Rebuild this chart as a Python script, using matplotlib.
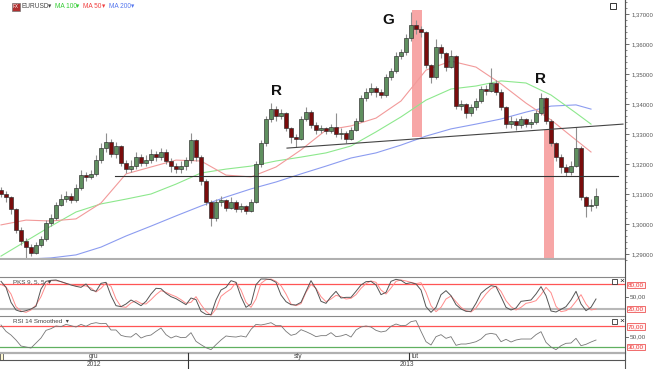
import matplotlib
matplotlib.use("Agg")
import matplotlib.pyplot as plt
from matplotlib.lines import Line2D
from matplotlib.ticker import FuncFormatter, MultipleLocator

plt.rcParams['font.family'] = ['Liberation Sans', 'DejaVu Sans']

## EURUSD candles (4H), open = previous close
first_open = 1.3115
close = [1.3100, 1.3090, 1.3050, 1.2980, 1.2945, 1.2925, 1.2905, 1.2930, 1.2950, 1.3005,
         1.3020, 1.3065, 1.3085, 1.3095, 1.3080, 1.3120, 1.3165, 1.3158, 1.3168, 1.3215,
         1.3255, 1.3275, 1.3235, 1.3260, 1.3205, 1.3185, 1.3195, 1.3225, 1.3205, 1.3215,
         1.3235, 1.3225, 1.3240, 1.3210, 1.3195, 1.3185, 1.3195, 1.3215, 1.3280, 1.3225,
         1.3145, 1.3075, 1.3020, 1.3075, 1.3080, 1.3055, 1.3075, 1.3050, 1.3060, 1.3045,
         1.3075, 1.3200, 1.3270, 1.3350, 1.3385, 1.3360, 1.3370, 1.3320, 1.3290, 1.3285,
         1.3350, 1.3375, 1.3330, 1.3315, 1.3320, 1.3310, 1.3325, 1.3300, 1.3305, 1.3285,
         1.3315, 1.3345, 1.3420, 1.3440, 1.3455, 1.3440, 1.3430, 1.3490, 1.3510, 1.3560,
         1.3575, 1.3620, 1.3665, 1.3650, 1.3640, 1.3530, 1.3490, 1.3590, 1.3570, 1.3525,
         1.3560, 1.3395, 1.3400, 1.3370, 1.3390, 1.3410, 1.3450, 1.3445, 1.3470, 1.3440,
         1.3390, 1.3335, 1.3345, 1.3330, 1.3350, 1.3335, 1.3340, 1.3370, 1.3420, 1.3345,
         1.3270, 1.3225, 1.3190, 1.3175, 1.3195, 1.3255, 1.3090, 1.3060, 1.3065, 1.3095]
high = [1.3125, 1.3110, 1.3095, 1.3055, 1.2990, 1.2955, 1.2935, 1.2940, 1.2960, 1.3015,
        1.3035, 1.3075, 1.3100, 1.3110, 1.3105, 1.3135, 1.3180, 1.3175, 1.3180, 1.3230,
        1.3270, 1.3305, 1.3285, 1.3275, 1.3265, 1.3215, 1.3215, 1.3240, 1.3235, 1.3230,
        1.3250, 1.3245, 1.3255, 1.3250, 1.3220, 1.3205, 1.3210, 1.3225, 1.3305, 1.3285,
        1.3230, 1.3150, 1.3080, 1.3085, 1.3095, 1.3085, 1.3090, 1.3080, 1.3070, 1.3065,
        1.3085, 1.3210, 1.3280, 1.3360, 1.3403, 1.3395, 1.3385, 1.3375, 1.3325, 1.3300,
        1.3360, 1.3390, 1.3380, 1.3340, 1.3330, 1.3325, 1.3335, 1.3370, 1.3320, 1.3310,
        1.3325, 1.3355, 1.3430, 1.3455, 1.3470, 1.3460, 1.3450, 1.3500, 1.3520, 1.3575,
        1.3585, 1.3635, 1.3707, 1.3680, 1.3660, 1.3645, 1.3535, 1.3617, 1.3600, 1.3575,
        1.3580, 1.3565, 1.3415, 1.3405, 1.3400, 1.3420, 1.3460, 1.3465, 1.3520, 1.3480,
        1.3450, 1.3395, 1.3360, 1.3355, 1.3360, 1.3355, 1.3350, 1.3380, 1.3437, 1.3425,
        1.3350, 1.3275, 1.3235, 1.3200, 1.3210, 1.3323, 1.3260, 1.3095, 1.3085, 1.3120]
low = [1.3090, 1.3075, 1.3035, 1.2970, 1.2930, 1.2885, 1.2895, 1.2900, 1.2925, 1.2945,
       1.2995, 1.3015, 1.3060, 1.3075, 1.3070, 1.3075, 1.3115, 1.3145, 1.3150, 1.3160,
       1.3205, 1.3240, 1.3225, 1.3220, 1.3195, 1.3170, 1.3175, 1.3185, 1.3195, 1.3195,
       1.3205, 1.3210, 1.3215, 1.3200, 1.3175, 1.3170, 1.3170, 1.3180, 1.3205, 1.3210,
       1.3130, 1.3065, 1.2995, 1.3010, 1.3060, 1.3045, 1.3050, 1.3040, 1.3040, 1.3035,
       1.3040, 1.3070, 1.3190, 1.3260, 1.3340, 1.3345, 1.3350, 1.3310, 1.3270, 1.3257,
       1.3280, 1.3345, 1.3320, 1.3300, 1.3305, 1.3300, 1.3305, 1.3290, 1.3285, 1.3270,
       1.3280, 1.3310, 1.3340, 1.3410, 1.3430, 1.3425, 1.3420, 1.3425, 1.3480, 1.3505,
       1.3550, 1.3565, 1.3610, 1.3635, 1.3625, 1.3520, 1.3470, 1.3485, 1.3555, 1.3510,
       1.3520, 1.3385, 1.3380, 1.3355, 1.3360, 1.3380, 1.3405, 1.3430, 1.3440, 1.3430,
       1.3380, 1.3320, 1.3320, 1.3315, 1.3320, 1.3325, 1.3320, 1.3335, 1.3365, 1.3335,
       1.3260, 1.3210, 1.3170, 1.3160, 1.3165, 1.3190, 1.3080, 1.3023, 1.3045, 1.3055]

## Moving averages, sampled every 5 candles
ma_x = [0, 5, 10, 15, 20, 25, 30, 35, 40, 45, 50, 55, 60, 65, 70, 75, 80, 85, 90, 95,
        100, 105, 110, 115, 118]
ma50 = [1.2997, 1.3013, 1.3010, 1.3017, 1.3070, 1.3167, 1.3190, 1.3213, 1.3210, 1.3163,
        1.3157, 1.3190, 1.3247, 1.3313, 1.3327, 1.3353, 1.3410, 1.3513, 1.3543, 1.3523,
        1.3467, 1.3403, 1.3347, 1.3280, 1.3240]
ma100 = [1.2893, 1.2943, 1.2993, 1.3040, 1.3067, 1.3083, 1.3100, 1.3133, 1.3170, 1.3183,
         1.3193, 1.3210, 1.3223, 1.3237, 1.3260, 1.3307, 1.3357, 1.3413, 1.3450, 1.3460,
         1.3477, 1.3470, 1.3430, 1.3370, 1.3333]
ma200 = [1.2880, 1.2883, 1.2887, 1.2897, 1.2923, 1.2960, 1.2993, 1.3027, 1.3060, 1.3090,
         1.3117, 1.3140, 1.3167, 1.3193, 1.3220, 1.3237, 1.3263, 1.3293, 1.3317, 1.3333,
         1.3350, 1.3373, 1.3393, 1.3397, 1.3383]

## Stochastic 9,5,5 (%K, %D) and RSI 14 smoothed
stoch_k = [86.4, 72, 36, 17.6, 13.6, 16, 20, 26.4, 68, 86.4, 88.8, 89.6, 85.6, 81.6, 77.6,
           74.4, 72, 80, 65.6, 62.4, 81.6, 84, 52, 28, 25.6, 32, 41.6, 35.2, 28, 38.4,
           56, 69.6, 68.8, 57.6, 49.6, 44.8, 37.6, 30.4, 46.4, 42.4, 14.4, 7.2, 6.4, 41.6, 65.6,
           72, 88, 84, 49.6, 24, 32, 78.4, 92, 92, 90.4, 84, 53.6, 37.6, 30.4, 29.6,
           36, 62.4, 88, 68, 38.4, 33.6, 49.6, 62.4, 46.4, 48, 48, 62.4, 77.6, 85.6, 86.4,
           77.6, 54.4, 60, 86.4, 91.2, 88.8, 80.8, 83.2, 80, 65.6, 25.6, 12, 24, 54.4, 64,
           52, 30.4, 20, 14.4, 14.4, 33.6, 57.6, 68, 76, 73.6, 49.6, 24, 17.6, 22.4, 38.4,
           40, 41.6, 56, 73.6, 52, 15.2, 12.8, 19.2, 25.6, 41.6, 62.4, 32, 16, 24, 44]
stoch_d = [79.2, 72.8, 56, 25.6, 15.2, 12, 17.6, 29.6, 49.6, 78.4, 88, 88, 85.6, 81.6, 78.4,
           76, 76, 75.2, 70.4, 60.8, 69.6, 82.4, 74.4, 44, 25.6, 24, 34.4, 40, 33.6, 32,
           42.4, 54.4, 64, 60, 54.4, 49.6, 42.4, 33.6, 36, 49.6, 30.4, 14.4, 4.8, 20, 50.4,
           60, 68, 84, 65.6, 36, 24, 44, 81.6, 90.4, 92, 86.4, 76, 56, 32, 28,
           32.8, 60, 79.2, 69.6, 49.6, 37.6, 44, 52.8, 49.6, 44, 45.6, 54.4, 69.6, 80.8, 87.2,
           84, 65.6, 56, 70.4, 86.4, 89.6, 87.2, 84, 80.8, 83.2, 60, 28, 13.6, 24, 44,
           51.2, 37.6, 24, 16, 12.8, 22.4, 40, 56, 68.8, 75.2, 62.4, 40, 25.6, 17.6, 24,
           33.6, 36, 40, 54.4, 72, 59.2, 26.4, 13.6, 16, 23.2, 38.4, 54.4, 32, 17.6, 20]
rsi = [71.9, 59.8, 52.8, 43.3, 31.9, 30, 28.1, 37.6, 47.1, 61.7, 64.9, 70, 68.7, 73.1, 70.6,
       68.1, 73.1, 69.4, 74.4, 76.3, 74.4, 75, 62.4, 62.4, 52.2, 49.7, 49, 56, 47.1, 51,
       52.8, 59.8, 66.2, 53.5, 47.1, 51, 47.8, 48.4, 57.3, 40.8, 34.4, 28.7, 24.9, 34.4, 43.3,
       51, 49.7, 49, 51, 49, 63.6, 73.1, 71.9, 73.8, 76.3, 70.6, 70.6, 59.8, 52.2, 54.8,
       63, 59.2, 54.8, 49.7, 51.6, 51.6, 57.3, 49.7, 51, 54.1, 49, 62.4, 68.1, 70, 68.1,
       61.7, 58.6, 60.5, 69.4, 73.8, 70.6, 71.3, 78.3, 80.2, 59.8, 40.1, 33.8, 49.7, 53.5, 46.5,
       49.7, 33.2, 35.7, 35.7, 37.6, 40.1, 45.2, 54.1, 56, 54.1, 40.1, 44.6, 39.5, 43.3, 45.2,
       45.2, 45.2, 53.5, 59.2, 38.9, 30, 24.9, 32.5, 37, 37.6, 46.5, 32.5, 35.1, 39.5, 43.3]

## Drawings on the chart
support_level = 1.3160
support_from = 22.8
support_to = 123.4
trend_start = (57.2, 1.3253)
trend_end = (124.4, 1.3333)
bands = [(82.2, 84.2, 1.3290, 1.3713), (108.6, 110.6, 1.2883, 1.3313)]
marks = [('R', 55.2, 1.3445), ('G', 77.4, 1.3680), ('R', 108.0, 1.3485)]
price_ticks = [1.29, 1.30, 1.31, 1.32, 1.33, 1.34, 1.35, 1.36, 1.37]
months = [('gru', 18.6), ('sty', 59.4), ('lut', 82.9)]
years = [('2012', 18.6), ('2013', 81.2)]
year_break = 37.4
month_break = 81.6

## Layout helpers (pixels)
W, H = 653, 369
XR = 625
xlim = (-0.2, 124.8)


def box(x0, y0, x1, y1):
    return [x0 / W, 1 - y1 / H, (x1 - x0) / W, (y1 - y0) / H]


def fx(x):
    return x / W


def fy(y):
    return 1 - y / H


def ix(i):
    # candle index -> figure fraction
    return (i - xlim[0]) / (xlim[1] - xlim[0]) * XR / W


fig = plt.figure(figsize=(W / 100, H / 100), dpi=100)

# Main price panel
ax = fig.add_axes(box(0, 0, XR, 260))
ax.set_xlim(*xlim)
ax.set_ylim(1.288, 1.374667)
for s in ['top', 'left', 'bottom']:
    ax.spines[s].set_visible(False)
ax.spines['right'].set_color('#555555')
ax.spines['right'].set_linewidth(0.8)
ax.yaxis.tick_right()
ax.set_xticks([])
ax.set_yticks(price_ticks)
ax.yaxis.set_minor_locator(MultipleLocator(0.002))
ax.yaxis.set_major_formatter(FuncFormatter(lambda v, p: ('%.5f' % v).replace('.', ',')))
ax.tick_params(axis='y', which='major', length=3, width=0.6, color='#555555',
               labelsize=4.3, labelcolor='#555555', pad=1.5)
ax.tick_params(axis='y', which='minor', length=1.5, width=0.5, color='#555555')

for x0, x1, y0, y1 in bands:
    ax.fill_between([x0, x1], y0, y1, color='#f7a6a6', lw=0, zorder=1)

ax.plot(ma_x, ma200, color='#8c9cf0', lw=0.8, zorder=2)
ax.plot(ma_x, ma100, color='#8de88d', lw=0.8, zorder=2)
ax.plot(ma_x, ma50, color='#f29a9a', lw=0.8, zorder=2)

opens = [first_open] + close[:-1]
xs = list(range(len(close)))
ax.vlines(xs, low, high, color='#8f8f8f', lw=0.8, zorder=3)
for i, (o, c) in enumerate(zip(opens, close)):
    up = c >= o
    ax.bar(i, max(abs(c - o), 0.00025), bottom=min(o, c), width=0.72,
           color='#5f8f5f' if up else '#7a0c0c',
           edgecolor='#2b2b2b', linewidth=0.45, zorder=4)

ax.plot([support_from, support_to], [support_level, support_level], color='#333333', lw=0.8, zorder=5)
ax.plot([trend_start[0], trend_end[0]], [trend_start[1], trend_end[1]], color='#444444', lw=0.8, zorder=5)
ax.axhline(1.2883, color='#b0b0b0', lw=1.5, zorder=5)

for t, x, y in marks:
    ax.text(x, y, t, fontsize=11, fontweight='bold', color='#111111', ha='center', va='center', zorder=6)

# Header
fig.patches.append(plt.Rectangle((fx(12), fy(11)), 8 / W, 8 / H, transform=fig.transFigure,
                                 facecolor='#b03030', edgecolor='#777777', lw=0.5))
fig.text(fx(16), fy(7), 'FX', fontsize=3.3, color='white', ha='center', va='center')
head = [('EURUSD', 22, '#444444'), ('\u25be', 48, '#444444'), ('MA 100', 55, '#33cc33'),
        ('\u25be', 76, '#33cc33'), ('MA 50', 83, '#f04040'), ('\u25be', 101.5, '#f04040'),
        ('MA 200', 109, '#5577ee'), ('\u25be', 130.5, '#5577ee')]
for t, x, c in head:
    fig.text(fx(x), fy(7), t, fontsize=4.7, color=c, va='center')
fig.patches.append(plt.Rectangle((fx(610), fy(9)), 6 / W, 6 / H, transform=fig.transFigure,
                                 facecolor='white', edgecolor='#333333', lw=0.7))

# Stochastic panel
ax2 = fig.add_axes(box(0, 277, XR, 316))
ax2.set_xlim(*xlim)
ax2.set_ylim(3.2, 96.8)
ax2.axhline(80, color='#ff5555', lw=0.9)
ax2.axhline(20, color='#b8b8b8', lw=1.5)
ax2.plot(xs, stoch_d, color='#ff8c8c', lw=0.7)
ax2.plot(xs, stoch_k, color='#555555', lw=0.7)

# RSI panel
ax3 = fig.add_axes(box(0, 316, XR, 353))
ax3.set_xlim(*xlim)
ax3.set_ylim(18.57, 89.05)
ax3.axhline(70, color='#ff5555', lw=0.9)
ax3.axhline(30, color='#60b060', lw=0.9)
ax3.plot(xs, rsi, color='#777777', lw=0.6)

for a in (ax2, ax3):
    a.set_xticks([])
    a.set_yticks([])
    for s in a.spines.values():
        s.set_visible(False)

# panel frame lines
frame = [(277, '#888888', 0.8), (316, '#888888', 0.8), (353, '#b0b0b0', 1.6), (360, '#555555', 0.8)]
for y, c, w in frame:
    fig.add_artist(Line2D([0, fx(XR)], [fy(y), fy(y)], color=c, lw=w))
fig.add_artist(Line2D([fx(XR), fx(XR)], [0, 1], color='#555555', lw=0.8))

fig.text(fx(13), fy(282), 'PKS 9, 5, 5  \u25be', fontsize=4.5, color='#444444', va='center')
fig.text(fx(13), fy(321.5), 'RSI 14 Smoothed  \u25be', fontsize=4.5, color='#444444', va='center')
for y in (281, 321):
    fig.patches.append(plt.Rectangle((fx(612), fy(y + 3)), 5 / W, 5 / H, transform=fig.transFigure,
                                     facecolor='white', edgecolor='#333333', lw=0.6))
    fig.text(fx(619), fy(y + 0.5), '\u00d7', fontsize=6, color='#222222', va='center')

# right labels for oscillators
osc_labels = [('80,00', 285, True), ('50,00', 297, False), ('20,00', 309, True),
              ('70,00', 326.5, True), ('50,00', 337, False), ('30,00', 347, True)]
for t, y, boxed in osc_labels:
    if boxed:
        fig.text(fx(628), fy(y), t, fontsize=4.6, color='#ee3333', va='center',
                 bbox=dict(boxstyle='square,pad=0.15', facecolor='#fff4f4', edgecolor='#ee5555', lw=0.6))
    else:
        fig.text(fx(630), fy(y), t, fontsize=4.6, color='#555555', va='center')
        fig.add_artist(Line2D([fx(XR), fx(XR + 3)], [fy(y), fy(y)], color='#555555', lw=0.6))

# time axis
for t, i in months:
    fig.text(ix(i), fy(356.5), t, fontsize=4.8, color='#444444', ha='center', va='center')
for t, i in years:
    fig.text(ix(i), fy(365), t, fontsize=4.8, color='#444444', ha='center', va='center')
fig.add_artist(Line2D([ix(year_break)] * 2, [fy(353), 0], color='#333333', lw=0.8))
fig.add_artist(Line2D([ix(month_break)] * 2, [fy(353), fy(360)], color='#333333', lw=0.8))
fig.patches.append(plt.Rectangle((0, fy(360)), 3 / W, 7 / H, transform=fig.transFigure,
                                 facecolor='#fff8d0', edgecolor='#555555', lw=0.6))

fig.savefig('out.png', dpi=100)
